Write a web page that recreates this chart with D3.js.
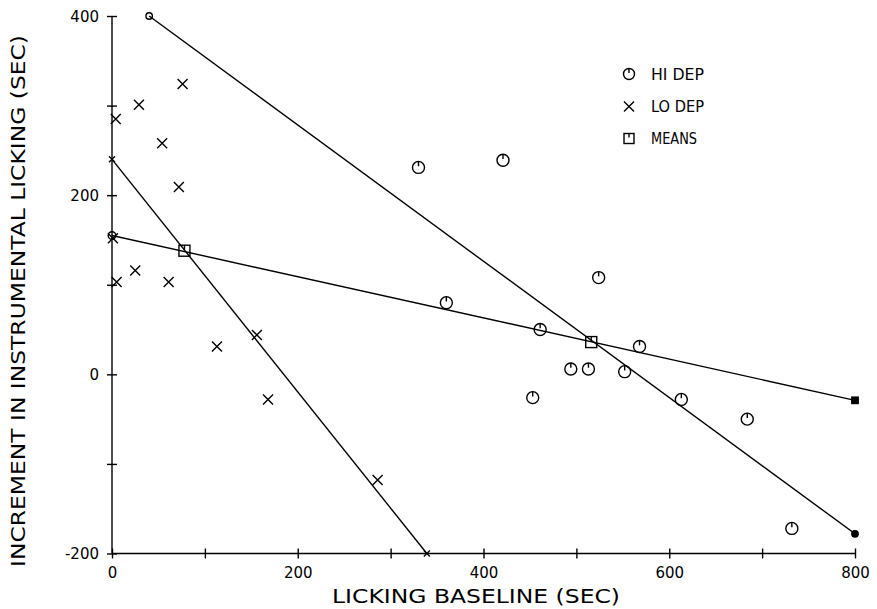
<!DOCTYPE html>
<html><head><meta charset="utf-8">
<script src="https://cdn.jsdelivr.net/npm/d3@7"></script>
<style>body{margin:0;background:#fff}</style>
</head><body>
<svg id="c" width="877" height="609"></svg>
<script>
// ---- data ----
const xTicks = [0, 100, 200, 300, 400, 500, 600, 700, 800];
const xTickLabels = ["0", "", "200", "", "400", "", "600", "", "800"];
const yTicks = [-200, -100, 0, 100, 200, 300, 400];
const yTickLabels = ["-200", "", "0", "", "200", "", "400"];

const hiX = [330, 421, 360, 524, 461, 494, 513, 453, 552, 568, 613, 684, 732];
const hiY = [231, 239, 80, 108, 50, 6, 6, -26, 3, 31, -28, -50, -172];

const loX = [4, 29, 76, 54, 72, 1, 25, 5, 61, 113, 156, 168, 286];
const loY = [285, 301, 324, 258, 209, 152, 116, 103, 103, 31, 44, -28, -118];

const meanX = [78, 516];
const meanY = [138, 36];

const hiLineX = [40, 800], hiLineY = [400, -178];
const loLineX = [0, 339], loLineY = [240, -200];
const meanLineX = [0, 800], meanLineY = [155, -29];

const legendLabels = ["HI DEP", "LO DEP", "MEANS"];
const xTitle = "LICKING BASELINE (SEC)";
const yTitle = "INCREMENT IN INSTRUMENTAL LICKING (SEC)";

// ---- drawing ----
const svg = d3.select("#c");
const font = "'DejaVu Sans', sans-serif";
const sw = 1.4;
const x = d3.scaleLinear().domain([0, 800]).range([112, 855]);
const y = d3.scaleLinear().domain([-200, 400]).range([553.5, 16]);

// axes
const gx = svg.append("g").attr("transform", `translate(0,${y(-200)})`)
  .call(d3.axisBottom(x).tickValues(xTicks).tickSize(5).tickFormat((d, i) => xTickLabels[i]));
gx.select(".domain").attr("d", `M${x(0)},0H${x(800)}`).attr("stroke", "#000").attr("stroke-width", sw);
gx.selectAll(".tick line").attr("y1", -5).attr("y2", 5).attr("stroke", "#000").attr("stroke-width", sw);
gx.selectAll(".tick text").attr("y", 24).attr("dy", 0)
  .attr("font-family", font).attr("font-size", 15).attr("fill", "#000");

const gy = svg.append("g").attr("transform", `translate(${x(0)},0)`)
  .call(d3.axisLeft(y).tickValues(yTicks).tickSize(5).tickFormat((d, i) => yTickLabels[i]));
gy.select(".domain").attr("d", `M0,${y(-200)}V${y(400)}`).attr("stroke", "#000").attr("stroke-width", sw);
gy.selectAll(".tick line").attr("x1", -5).attr("x2", 5).attr("stroke", "#000").attr("stroke-width", sw);
gy.selectAll(".tick text").attr("x", -13).attr("dy", "0.36em")
  .attr("font-family", font).attr("font-size", 15).attr("fill", "#000");

// axis titles
svg.append("text").attr("x", 476).attr("y", 603).attr("text-anchor", "middle")
  .attr("font-family", font).attr("font-size", 20)
  .attr("textLength", 288).attr("lengthAdjust", "spacingAndGlyphs").text(xTitle);
svg.append("text").attr("transform", "translate(25,301) rotate(-90)").attr("text-anchor", "middle")
  .attr("font-family", font).attr("font-size", 20)
  .attr("textLength", 532).attr("lengthAdjust", "spacingAndGlyphs").text(yTitle);

// marker helpers
function circleMark(g, cx, cy, r) {
  g.append("circle").attr("cx", cx).attr("cy", cy).attr("r", r)
    .attr("fill", "none").attr("stroke", "#000").attr("stroke-width", sw);
  g.append("line").attr("x1", cx).attr("x2", cx).attr("y1", cy - r).attr("y2", cy - r * 0.2)
    .attr("stroke", "#000").attr("stroke-width", sw);
}
function crossMark(g, cx, cy, h) {
  g.append("path").attr("d", `M${cx - h},${cy - h}L${cx + h},${cy + h}M${cx - h},${cy + h}L${cx + h},${cy - h}`)
    .attr("stroke", "#000").attr("stroke-width", sw).attr("fill", "none");
}
function squareMark(g, cx, cy, h) {
  g.append("rect").attr("x", cx - h).attr("y", cy - h).attr("width", 2 * h).attr("height", 2 * h)
    .attr("fill", "none").attr("stroke", "#000").attr("stroke-width", sw);
  g.append("line").attr("x1", cx).attr("x2", cx).attr("y1", cy - h).attr("y2", cy - h * 0.2)
    .attr("stroke", "#000").attr("stroke-width", sw);
}

// regression lines
const line = d3.line().x(d => x(d[0])).y(d => y(d[1]));
function drawLine(xs, ys) {
  svg.append("path").attr("d", line(xs.map((v, i) => [v, ys[i]])))
    .attr("stroke", "#000").attr("stroke-width", sw).attr("fill", "none");
}
drawLine(hiLineX, hiLineY);
drawLine(loLineX, loLineY);
drawLine(meanLineX, meanLineY);

const gm = svg.append("g");
// line endpoint markers
hiLineX.forEach((v, i) => {
  gm.append("circle").attr("cx", x(v)).attr("cy", y(hiLineY[i])).attr("r", 3.2)
    .attr("fill", i === 1 ? "#000" : "none").attr("stroke", "#000").attr("stroke-width", sw);
});
loLineX.forEach((v, i) => crossMark(gm, x(v), y(loLineY[i]), 3));
meanLineX.forEach((v, i) => {
  if (i === 0) {
    gm.append("circle").attr("cx", x(v)).attr("cy", y(meanLineY[i])).attr("r", 3.8)
      .attr("fill", "none").attr("stroke", "#000").attr("stroke-width", sw);
  } else {
    gm.append("rect").attr("x", x(v) - 3.2).attr("y", y(meanLineY[i]) - 3.2).attr("width", 6.4).attr("height", 6.4)
      .attr("fill", "#000").attr("stroke", "#000").attr("stroke-width", sw);
  }
});

// data points
hiX.forEach((v, i) => circleMark(gm, x(v), y(hiY[i]), 6));
loX.forEach((v, i) => crossMark(gm, x(v), y(loY[i]), 5));
meanX.forEach((v, i) => squareMark(gm, x(v), y(meanY[i]), 5.5));

// legend
const lg = svg.append("g");
const legY = [74, 106.5, 138.5];
circleMark(lg, 629, legY[0], 5.5);
crossMark(lg, 629, legY[1], 5);
squareMark(lg, 629, legY[2], 5);
const legW = [53, 53, 46];
legendLabels.forEach((t, i) => {
  lg.append("text").attr("x", 651).attr("y", legY[i] + 5.5)
    .attr("font-family", font).attr("font-size", 15)
    .attr("textLength", legW[i]).attr("lengthAdjust", "spacingAndGlyphs").text(t);
});
</script>
</body></html>
